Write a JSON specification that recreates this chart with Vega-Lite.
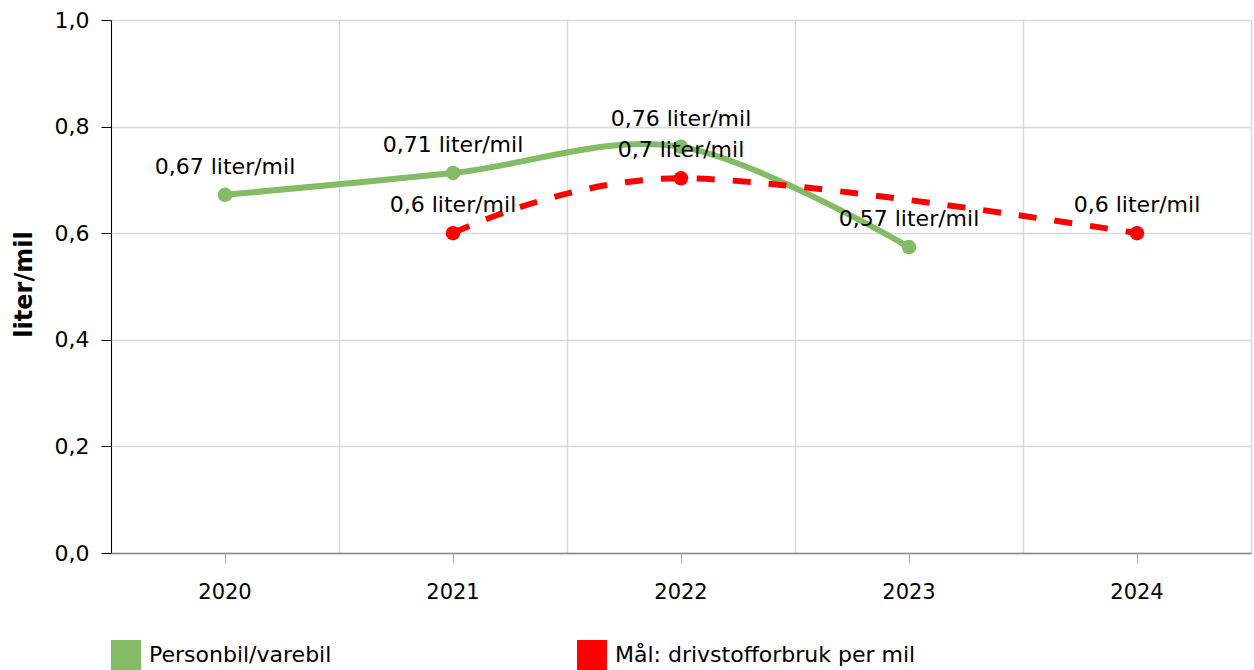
{
  "$schema": "https://vega.github.io/schema/vega-lite/v6.json",
  "width": 1140,
  "height": 533,
  "autosize": {"type": "none"},
  "padding": {"left": 111, "top": 20, "right": 3, "bottom": 117},
  "background": "white",
  "config": {"view": {"stroke": null}, "font": "DejaVu Sans"},
  "data": {
    "values": [
      {"year": "2020", "serie": "Personbil/varebil", "value": 0.672, "label": "0,67 liter/mil"},
      {"year": "2021", "serie": "Personbil/varebil", "value": 0.713, "label": "0,71 liter/mil"},
      {"year": "2022", "serie": "Personbil/varebil", "value": 0.762, "label": "0,76 liter/mil"},
      {"year": "2023", "serie": "Personbil/varebil", "value": 0.574, "label": "0,57 liter/mil"},
      {"year": "2021", "serie": "Mål: drivstofforbruk per mil", "value": 0.6, "label": "0,6 liter/mil"},
      {"year": "2022", "serie": "Mål: drivstofforbruk per mil", "value": 0.703, "label": "0,7 liter/mil"},
      {"year": "2024", "serie": "Mål: drivstofforbruk per mil", "value": 0.6, "label": "0,6 liter/mil"}
    ]
  },
  "resolve": {"scale": {"x": "shared"}, "axis": {"x": "independent"}},
  "encoding": {
    "y": {
      "field": "value",
      "type": "quantitative",
      "scale": {"domain": [0, 1]},
      "axis": {
        "title": "liter/mil",
        "titleFontSize": 24,
        "titleFontWeight": "bold",
        "titleColor": "black",
        "titleAngle": -90,
        "titleX": -87,
        "titleY": 264,
        "titleAlign": "center",
        "titleBaseline": "middle",
        "values": [0, 0.2, 0.4, 0.6, 0.8, 1],
        "labelExpr": "replace(format(datum.value, '.1f'), '.', ',')",
        "labelFontSize": 22,
        "labelColor": "black",
        "labelPadding": 12,
        "tickSize": 10,
        "tickColor": "black",
        "domainColor": "black",
        "grid": true,
        "gridColor": "#d9d9d9",
        "gridWidth": 1.5
      }
    }
  },
  "layer": [
    {
      "transform": [{"filter": "datum.serie === 'Personbil/varebil'"}],
      "mark": {"type": "line", "interpolate": "cardinal", "strokeWidth": 6, "color": "#84bb65"},
      "encoding": {
        "x": {
          "field": "year",
          "type": "ordinal",
          "bandPosition": 0.5,
          "scale": {"type": "band", "domain": ["2020", "2021", "2022", "2023", "2024"], "paddingInner": 0, "paddingOuter": 0},
          "axis": {
            "orient": "bottom",
            "grid": true,
            "tickBand": "extent",
            "tickExtra": true,
            "gridColor": "#d9d9d9",
            "gridWidth": 1.5,
            "labels": false,
            "ticks": false,
            "domain": false,
            "title": null
          }
        }
      }
    },
    {
      "transform": [{"filter": "datum.serie !== 'Personbil/varebil'"}],
      "mark": {"type": "line", "interpolate": "cardinal", "strokeWidth": 6, "color": "#ff0000", "strokeDash": [18, 18]},
      "encoding": {
        "x": {
          "field": "year",
          "type": "ordinal",
          "bandPosition": 0.5,
          "axis": {
            "orient": "bottom",
            "grid": false,
            "title": null,
            "labelAngle": 0,
            "labelFontSize": 21,
            "labelColor": "black",
            "labelPadding": 18,
            "tickSize": 10,
            "tickColor": "#aaaaaa",
            "domainColor": "#888888",
            "domainWidth": 1.5
          }
        }
      }
    },
    {
      "mark": {"type": "circle", "size": 210, "opacity": 1},
      "encoding": {
        "x": {"field": "year", "type": "ordinal", "bandPosition": 0.5, "axis": null},
        "color": {
          "field": "serie",
          "type": "nominal",
          "scale": {"domain": ["Personbil/varebil", "Mål: drivstofforbruk per mil"], "range": ["#84bb65", "#ff0000"]},
          "legend": {
            "orient": "none",
            "legendX": 0,
            "legendY": 620,
            "direction": "horizontal",
            "title": null,
            "symbolType": "square",
            "symbolSize": 900,
            "symbolStrokeWidth": 0,
            "symbolOpacity": 1,
            "labelFontSize": 22,
            "labelColor": "black",
            "labelOffset": 8,
            "labelLimit": 600,
            "columnPadding": 245,
            "padding": 0,
            "rowPadding": 0
          }
        }
      }
    },
    {
      "mark": {"type": "text", "dy": -21, "fontSize": 22, "color": "black", "align": "center", "baseline": "alphabetic"},
      "encoding": {
        "x": {"field": "year", "type": "ordinal", "bandPosition": 0.5, "axis": null},
        "text": {"field": "label"}
      }
    }
  ]
}
